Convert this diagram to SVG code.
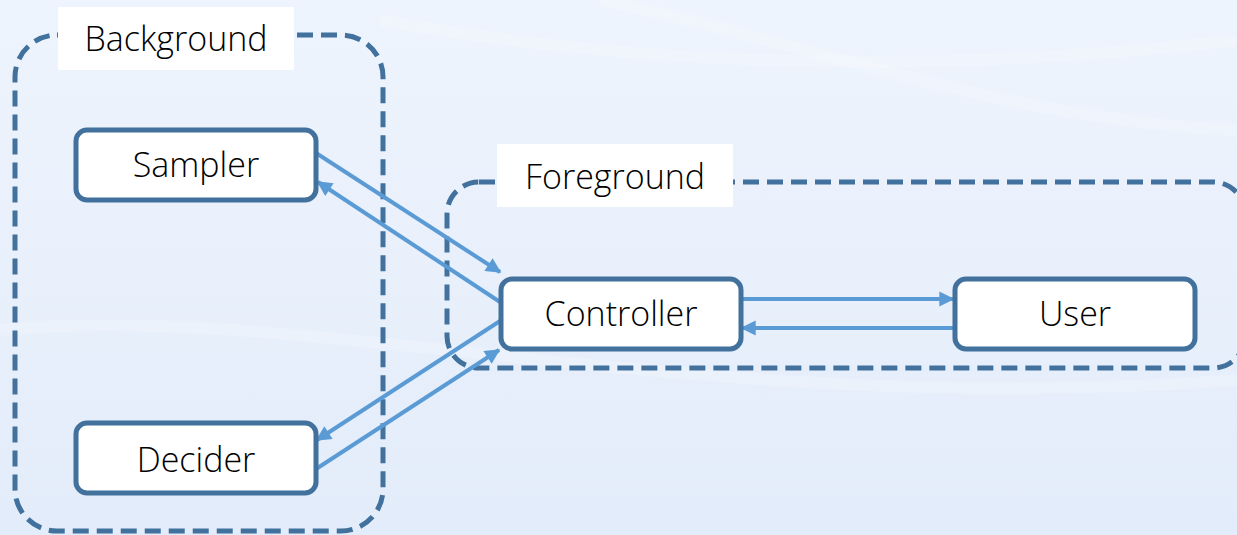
<svg xmlns="http://www.w3.org/2000/svg" width="1237" height="535" viewBox="0 0 1237 535">
  <style>
    .node rect { fill: #ffffff; stroke: #41719c; stroke-width: 5; }
    .group { fill: none; stroke: #41719c; stroke-width: 5; stroke-dasharray: 16 8; }
    .tag { fill: #ffffff; }
    text { font-family: "Open Sans", "Liberation Sans", sans-serif; font-weight: 300; font-size: 34px; fill: #000000; text-anchor: middle; }
    .edge { stroke: #5b9bd5; stroke-width: 4; fill: none; }
  </style>
  <defs>
    <linearGradient id="bg" x1="0" y1="0" x2="0" y2="1">
      <stop offset="0" stop-color="#eef4fd"/>
      <stop offset="1" stop-color="#e3ecfa"/>
    </linearGradient>
    <marker id="head" viewBox="0 0 10 10" refX="9" refY="5" markerWidth="4.4" markerHeight="3.8" orient="auto" markerUnits="strokeWidth">
      <path d="M0,0 L10,5 L0,10 z" fill="#5b9bd5"/>
    </marker>
  </defs>

  <!-- backdrop -->
  <rect x="0" y="0" width="1237" height="535" fill="url(#bg)"/>
  <g fill="none" stroke="#ffffff" stroke-opacity="0.18" stroke-width="12">
    <path d="M380,20 C600,60 900,80 1237,40"/>
    <path d="M600,0 C800,40 1000,120 1237,130"/>
    <path d="M0,330 C300,300 700,420 1237,380"/>
  </g>

  <!-- grouping frames -->
  <g id="background-group">
    <rect class="group" x="15" y="35" width="368" height="496" rx="42"/>
    <rect class="tag" x="58" y="7" width="236" height="63"/>
    <text x="176" y="51">Background</text>
  </g>
  <g id="foreground-group">
    <rect class="group" x="447" y="182" width="798" height="186" rx="32"/>
    <rect class="tag" x="497" y="144" width="236" height="63"/>
    <text x="615" y="189">Foreground</text>
  </g>

  <!-- connectors -->
  <g id="connectors">
    <line class="edge" x1="316" y1="153" x2="500" y2="272" marker-end="url(#head)"/>
    <line class="edge" x1="500" y1="302" x2="318" y2="182" marker-end="url(#head)"/>
    <line class="edge" x1="500" y1="321" x2="317" y2="440" marker-end="url(#head)"/>
    <line class="edge" x1="316" y1="469" x2="499" y2="350" marker-end="url(#head)"/>
    <line class="edge" x1="741" y1="299" x2="953" y2="299" marker-end="url(#head)"/>
    <line class="edge" x1="953" y1="328" x2="742" y2="328" marker-end="url(#head)"/>
  </g>

  <!-- nodes -->
  <g id="sampler" class="node">
    <rect x="76" y="130" width="240" height="70" rx="11"/>
    <text x="196" y="177">Sampler</text>
  </g>
  <g id="decider" class="node">
    <rect x="76" y="423" width="240" height="70" rx="11"/>
    <text x="196" y="472">Decider</text>
  </g>
  <g id="controller" class="node">
    <rect x="501" y="279" width="240" height="70" rx="11"/>
    <text x="621" y="326">Controller</text>
  </g>
  <g id="user" class="node">
    <rect x="955" y="279" width="240" height="70" rx="11"/>
    <text x="1075" y="326">User</text>
  </g>
</svg>
